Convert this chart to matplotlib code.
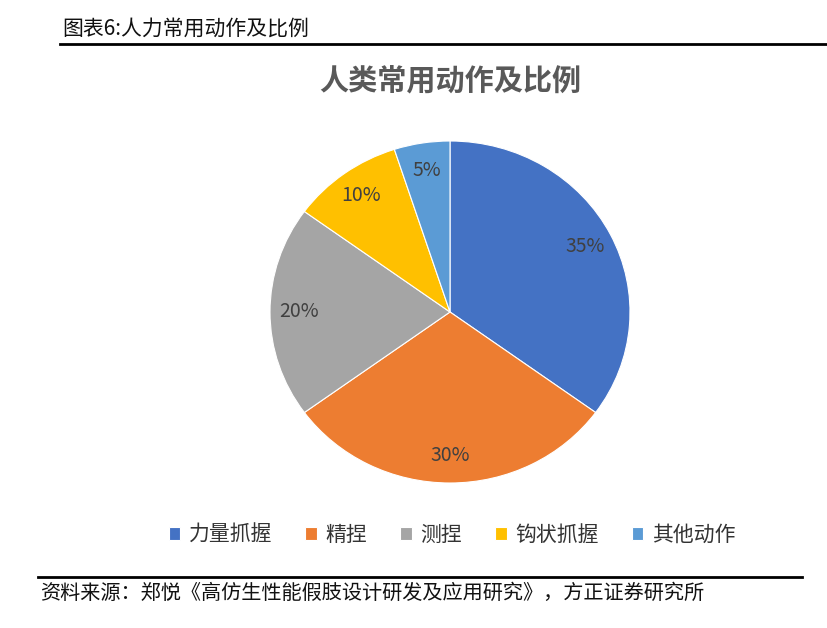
import matplotlib.pyplot as plt
from matplotlib.lines import Line2D

plt.rcParams['font.family'] = ['Noto Sans CJK SC', 'DejaVu Sans']

labels = ['力量抓握', '精捏', '测捏', '钩状抓握', '其他动作']
shares = [35, 30, 20, 10, 5]
colors = ['#4472C4', '#ED7D31', '#A5A5A5', '#FFC000', '#5B9BD5']

fig = plt.figure(figsize=(8.28, 6.28), dpi=100)
W, H = 828, 628

# header and rule
fig.text(62 / W, 1 - 29 / H, '图表6:人力常用动作及比例', fontsize=15, va='center', ha='left', color='#111111')
fig.add_artist(Line2D([60 / W, 1.0], [1 - 44 / H, 1 - 44 / H], color='black', lw=2))

# chart title
fig.text(450 / W, 1 - 80 / H, '人类常用动作及比例', fontsize=21, fontweight='bold',
         ha='center', va='center', color='#595959')

# pie (reference is slightly stretched horizontally)
rx, ry = 180, 171
cx, cy = 450, 312
ax = fig.add_axes([(cx - rx) / W, (H - cy - ry) / H, 2 * rx / W, 2 * ry / H])
wedges, texts, autotexts = ax.pie(shares, colors=colors, startangle=90, counterclock=False,
                                  autopct='%d%%', pctdistance=0.84,
                                  wedgeprops=dict(linewidth=0.8, edgecolor='white'),
                                  textprops=dict(fontsize=14, color='#404040'))
ax.set_aspect('auto')
ax.set_xlim(-1, 1)
ax.set_ylim(-1, 1)

# legend
fig.legend(wedges, labels, loc='center', bbox_to_anchor=(452 / W, 1 - 535 / H), ncol=5,
           frameon=False, fontsize=15, handlelength=0.55, handleheight=0.55,
           handletextpad=0.4, columnspacing=1.6, labelcolor='#333333')

# footer
fig.add_artist(Line2D([38 / W, 802 / W], [1 - 577 / H, 1 - 577 / H], color='black', lw=2))
fig.text(40 / W, 1 - 593 / H, '资料来源：郑悦《高仿生性能假肢设计研发及应用研究》，方正证券研究所',
         fontsize=14.5, ha='left', va='center', color='#111111')

fig.savefig('out.png', dpi=100, facecolor='white')
